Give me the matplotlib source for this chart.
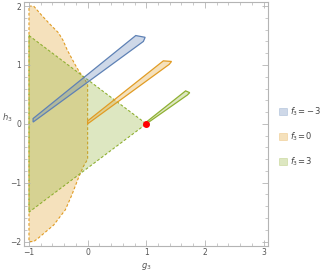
import numpy as np
import matplotlib.pyplot as plt
from matplotlib.patches import Polygon, Patch

blue = (0.368, 0.507, 0.710)
orange = (0.881, 0.611, 0.142)
green = (0.560, 0.692, 0.195)

# region boundaries
labels = [r'$f_3\!=\!-3$', r'$f_3\!=0$', r'$f_3\!=3$']

sliver_m3 = [(-0.93, 0.03), (-0.93, 0.09), (0.82, 1.50), (0.98, 1.47), (0.95, 1.40)]
sliver_0 = [(0.0, 0.0), (0.0, 0.05), (1.29, 1.07), (1.43, 1.06), (1.39, 1.01)]
sliver_3 = [(1.0, 0.0), (1.0, 0.03), (1.67, 0.56), (1.74, 0.53), (1.70, 0.49)]

region_0 = [(-1.0, 2.0), (-0.92, 2.0), (-0.78, 1.84), (-0.64, 1.69), (-0.50, 1.55),
            (-0.42, 1.42), (-0.35, 1.26), (-0.27, 1.11), (-0.21, 1.0), (-0.14, 0.88),
            (-0.05, 0.76), (0.0, 0.66), (0.0, -0.6),
            (-0.07, -0.72), (-0.15, -0.9), (-0.27, -1.21), (-0.38, -1.46),
            (-0.58, -1.72), (-0.84, -1.94), (-0.92, -2.0), (-1.0, -2.0)]
region_3 = [(-1.0, 1.5), (1.0, 0.0), (-1.0, -1.5)]

point = (1.0, 0.0)

fig = plt.figure(figsize=(3.23, 2.73), dpi=100)
ax = fig.add_axes([0.0743, 0.1, 0.7564, 0.8927])

a = 0.3
ax.add_patch(Polygon(region_0, closed=True, fc=orange + (a,), ec=orange, lw=0.8, ls=(0, (2.5, 1.8))))
ax.add_patch(Polygon(region_3, closed=True, fc=green + (a,), ec=green, lw=0.8, ls=(0, (2.5, 1.8))))
ax.add_patch(Polygon(sliver_m3, closed=True, fc=blue + (a,), ec=blue, lw=0.9))
ax.add_patch(Polygon(sliver_0, closed=True, fc=orange + (a,), ec=orange, lw=0.9))
ax.add_patch(Polygon(sliver_3, closed=True, fc=green + (a,), ec=green, lw=0.9))
ax.plot([point[0]], [point[1]], 'o', color='red', ms=4, zorder=5)

ax.set_xlim(-1.085, 3.08)
ax.set_ylim(-2.07, 2.07)
ax.set_xticks([-1, 0, 1, 2, 3])
ax.set_yticks([-2, -1, 0, 1, 2])
ax.set_xticklabels(['−1', '0', '1', '2', '3'])
ax.set_yticklabels(['−2', '−1', '0', '1', '2'])
ax.set_xticks(np.arange(-1, 3.01, 0.2), minor=True)
ax.set_yticks(np.arange(-2, 2.01, 0.2), minor=True)
gray = '#b4b4b4'
for s in ax.spines.values():
    s.set_color(gray)
    s.set_linewidth(0.8)
ax.tick_params(which='both', direction='in', top=True, right=True, color=gray,
               labelsize=5.5, labelcolor='#555555', pad=2)
ax.tick_params(which='major', length=4, width=0.6)
ax.tick_params(which='minor', length=2, width=0.5)

ax.set_xlabel(r'$g_3$', fontsize=6, color='#555555', va='center')
ax.xaxis.set_label_coords(0.5, -0.085)
ax.set_ylabel(r'$h_3$', fontsize=6, color='#555555', rotation=0)
ax.yaxis.set_label_coords(-0.07, 0.5)

handles = [Patch(fc=c + (a,), ec=c + (0.35,), lw=0.5) for c in (blue, orange, green)]
fig.legend(handles, labels, loc='center left', bbox_to_anchor=(0.84, 0.5),
           frameon=False, fontsize=6, handlelength=1.0, handleheight=1.0,
           handletextpad=0.4, labelspacing=1.5, labelcolor='#444444')

plt.savefig('out.png', dpi=100)
plt.close()
